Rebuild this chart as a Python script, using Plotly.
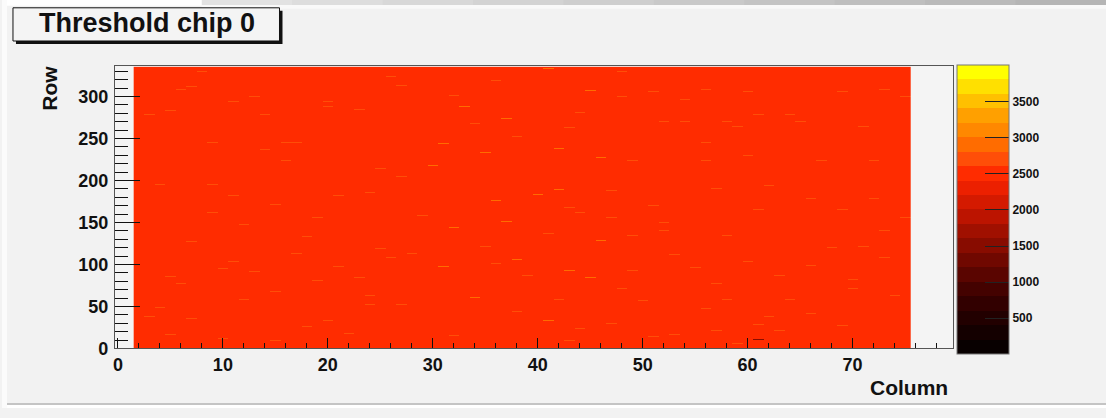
import plotly.graph_objects as go

# Pixel matrix layout of chip 0
columns = list(range(2, 76))          # active columns
rows = list(range(0, 336))            # rows
base_threshold = 2500                 # typical pixel threshold

# Pixels sitting one contour band above the typical threshold
hot_cols = [8, 6, 7, 10, 11, 13, 14, 3, 9, 16, 17, 8, 14, 16, 8, 4, 9, 24, 20, 20, 23, 24, 26, 26,
            25, 21, 6, 5, 11,
            48, 54, 51, 51, 56, 48, 54, 60, 69, 75, 73, 61, 64, 65, 52, 54, 58, 59, 71, 56, 71,
            69, 60, 56, 67, 72, 73, 49, 59, 55, 62, 57, 47, 51, 66, 72, 61, 69, 47, 52, 75, 58,
            49, 73, 75, 68, 71, 52,
            4, 7, 10, 62, 57, 63, 59, 61, 71, 74, 58, 64, 56,
            27, 29, 32, 33, 36, 37, 40, 41, 44, 45, 28, 31, 34, 35, 38, 42, 43, 46, 27, 30,
            33, 36, 39, 40, 43, 45, 29, 32, 34, 37, 41, 42, 44, 46, 28, 31, 35, 38, 39, 43,
            30, 33, 36, 40, 42, 45, 27, 34, 38, 41, 44, 29, 32, 37, 43,
            3, 5, 9, 12, 15, 18, 19, 22, 25, 4, 7, 11, 13, 17, 21, 23, 26, 6, 10, 15, 19, 24,
            48, 50, 53, 55, 60, 63, 66, 70, 73, 49, 57, 65, 70, 74,
            5, 12, 18, 22, 26, 15, 20, 24, 47, 51, 53, 66, 69]
hot_rows = [330, 308, 312, 321, 294, 300, 279, 279, 245, 245, 245, 240, 237, 224, 215, 195, 195,
            186, 294, 288, 285, 315, 324, 296, 214, 182, 296, 283, 182,
            330, 327, 315, 306, 308, 300, 297, 306, 306, 300, 308, 279, 279, 270, 270, 270, 270,
            264, 264, 245, 240, 240, 230, 224, 224, 224, 215, 224, 215, 197, 194, 190, 188, 170,
            179, 179, 165, 165, 156, 150, 156, 134, 134, 140, 128, 120, 121, 140,
            49, 36, 12, 38, 21, 21, 6, 28, 29, 23, 58, 58, 48,
            313, 327, 301, 288, 319, 274, 296, 333, 281, 307, 259, 244, 268, 233, 252, 238,
            263, 227, 205, 218, 191, 176, 209, 183, 168, 197, 158, 144, 172, 151, 137, 189,
            162, 129, 113, 98, 121, 106, 87, 93, 79, 66, 101, 72, 58, 84, 52, 61, 44, 33,
            24, 47, 15, 29, 9, 38, 17,
            162, 148, 171, 133, 156, 141, 119, 166, 127, 104, 92, 113, 98, 84, 108, 77, 95,
            68, 81, 63, 71, 57,
            112, 96, 104, 87, 99, 82, 108, 93, 77, 66, 71, 63, 86, 58,
            26, 18, 41, 9, 33, 52, 30, 14, 17, 42, 27, 11, 35]
hot_vals = ([2700] * 29 + [2700] * 48 + [2700] * 13 + [2700, 2900] * 27 + [2700]
            + [2700] * 22 + [2700] * 14 + [2700] * 13)

# Pixels with a clearly lower threshold
low_cols = [61, 70]
low_rows = [272, 218]
low_vals = [1500, 1500]

# 20 contour bands from 0 to 4000
band_colors = ["#080000", "#140000", "#220000", "#320000", "#440200", "#5a0500", "#700800",
               "#880c00", "#a01000", "#bc1400", "#d41a00", "#ec2000", "#ff2c00", "#ff4e08",
               "#ff6c00", "#ff8800", "#ffa000", "#ffc000", "#ffe000", "#ffff00"]
z_min, z_max = 0, 4000

z = [[base_threshold for _ in columns] for _ in rows]
for c, r, v in zip(hot_cols + low_cols, hot_rows + low_rows, hot_vals + low_vals):
    z[r][columns.index(c)] = v

n = len(band_colors)
colorscale = []
for i, col in enumerate(band_colors):
    colorscale.append([i / n, col])
    colorscale.append([(i + 1) / n, col])

W, H = 1106, 418
bg = "#f2f2f2"
font_family = "Liberation Sans, Arial, sans-serif"

fig = go.Figure(go.Heatmap(
    x=columns, y=rows, z=z,
    zmin=z_min, zmax=z_max,
    colorscale=colorscale,
    zsmooth=False,
    colorbar=dict(
        x=957 / W, xanchor="left", xpad=0,
        y=1 - 67 / H, yanchor="top", ypad=0,
        len=289, lenmode="pixels",
        thickness=52, thicknessmode="pixels",
        outlinecolor="#777", outlinewidth=1,
        tickvals=[500, 1000, 1500, 2000, 2500, 3000, 3500],
        ticks="inside", ticklen=24, tickcolor="#222", tickwidth=1,
        tickfont=dict(family=font_family, size=12, color="#111", weight="bold"),
    ),
))

axis_common = dict(
    showgrid=False, zeroline=False,
    showline=True, linecolor="#555", linewidth=1, mirror=True,
    ticks="inside", tickcolor="#111", tickwidth=1,
    tickfont=dict(family=font_family, size=18, color="#111", weight="bold"),
)

fig.update_layout(
    width=W, height=H,
    margin=dict(l=0, r=0, t=0, b=0),
    paper_bgcolor=bg, plot_bgcolor="#f4f4f4",
    showlegend=False,
    xaxis=dict(
        domain=[113 / W, 953 / W], range=[-0.3, 79.6],
        tickvals=[0, 10, 20, 30, 40, 50, 60, 70], ticklen=10,
        minor=dict(dtick=2, tick0=0, ticks="inside", ticklen=5, tickcolor="#111"),
        **axis_common,
    ),
    yaxis=dict(
        domain=[1 - 357 / H, 1 - 68 / H], range=[0, 336],
        tickvals=[0, 50, 100, 150, 200, 250, 300], ticklen=25,
        minor=dict(dtick=10, tick0=0, ticks="inside", ticklen=13, tickcolor="#111"),
        ticklabelstandoff=2,
        **axis_common,
    ),
)

# Axis titles
fig.add_annotation(text="Column", xref="paper", yref="paper",
                   x=909 / W, y=1 - 397 / H, xanchor="center", yanchor="middle",
                   showarrow=False, font=dict(family=font_family, size=21, color="#111", weight="bold"))
fig.add_annotation(text="Row", xref="paper", yref="paper", textangle=-90,
                   x=48 / W, y=1 - 90 / H, xanchor="center", yanchor="middle",
                   showarrow=False, font=dict(family=font_family, size=21, color="#111", weight="bold"))

# Title box with drop shadow
fig.add_shape(type="rect", xref="paper", yref="paper",
              x0=14 / W, x1=281 / W, y0=1 - 45 / H, y1=1 - 11 / H,
              fillcolor="#111", line=dict(width=0), layer="above")
fig.add_shape(type="rect", xref="paper", yref="paper",
              x0=11 / W, x1=278 / W, y0=1 - 42 / H, y1=1 - 8 / H,
              fillcolor="#f4f4f4", line=dict(color="#111", width=1), layer="above")
fig.add_annotation(text="Threshold chip 0", xref="paper", yref="paper",
                   x=145 / W, y=1 - 24 / H, xanchor="center", yanchor="middle",
                   showarrow=False, font=dict(family=font_family, size=27, color="#111", weight="bold"))

# Window edges around the canvas: shaded strip along the top
top_grays = ["#e2e2e2", "#dddddd", "#d8d8d8", "#d3d3d3", "#cecece",
             "#c9c9c9", "#c4c4c4", "#bfbfbf", "#bababa", "#b5b5b5"]
seg = (1106 - 200) / len(top_grays)
for i, g in enumerate(top_grays):
    fig.add_shape(type="rect", xref="paper", yref="paper",
                  x0=(200 + i * seg) / W, x1=(200 + (i + 1) * seg + 1) / W,
                  y0=1 - 5 / H, y1=1, fillcolor=g, line=dict(width=0), layer="below")
fig.add_shape(type="rect", xref="paper", yref="paper", x0=200 / W, x1=1, y0=1 - 9 / H, y1=1 - 5 / H,
              fillcolor="#f9f9f9", line=dict(width=0), layer="below")
fig.add_shape(type="rect", xref="paper", yref="paper", x0=0, x1=200 / W, y0=1 - 6 / H, y1=1,
              fillcolor="#ffffff", line=dict(width=0), layer="below")
fig.add_shape(type="rect", xref="paper", yref="paper", x0=0, x1=5 / W, y0=0, y1=1,
              fillcolor="#fbfbfb", line=dict(width=0), layer="below")
fig.add_shape(type="rect", xref="paper", yref="paper", x0=5 / W, x1=1, y0=0, y1=3 / H,
              fillcolor="#ffffff", line=dict(width=0), layer="below")
fig.add_shape(type="rect", xref="paper", yref="paper", x0=5 / W, x1=1, y0=3 / H, y1=5 / H,
              fillcolor="#c4c4c4", line=dict(width=0), layer="below")

fig.write_html("out.html")
